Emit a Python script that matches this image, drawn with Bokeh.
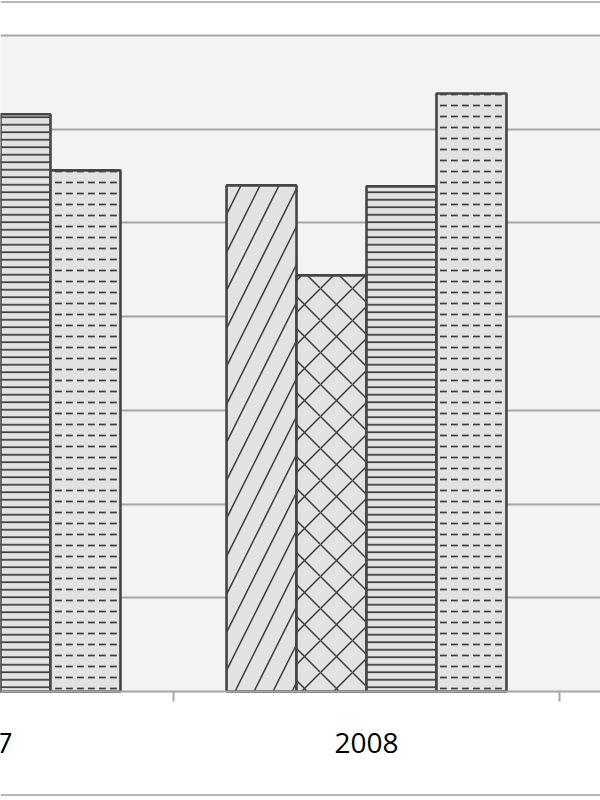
from bokeh.plotting import figure
from bokeh.models import Range1d, FixedTicker, Span, BoxAnnotation, ColumnDataSource
from bokeh.core.properties import value
from bokeh.embed import file_html
from bokeh.resources import INLINE

# ---- data ----
categories = ["2007", "2008"]
series_names = ["Series 1", "Series 2", "Series 3", "Series 4"]
series1 = [57.0, 54.0]
series2 = [50.0, 44.4]
series3 = [61.6, 53.9]
series4 = [55.6, 63.8]
y_ticks = [10, 20, 30, 40, 50, 60, 70]
group_bounds = [0.5, 1.5]

all_series = [series1, series2, series3, series4]
# (pattern, scale, weight)
hatches = [("/", 38, 1.5), ("x", 32, 1.5), ("-", 7.5, 1.7), ('"', 11, 1.7)]

bar_w = 0.1813
offsets = [-1.5 * bar_w, -0.5 * bar_w, 0.5 * bar_w, 1.5 * bar_w]

p = figure(width=600, height=800, output_backend="svg", toolbar_location=None,
           x_range=Range1d(0.0518, 1.6062), y_range=Range1d(-11.63, 73.73),
           min_border=0, outline_line_color=None,
           background_fill_color="white", border_fill_color="white")
p.styles = {"position": "absolute", "left": "0px", "top": "0px"}

# plot area background
p.add_layout(BoxAnnotation(bottom=0, top=70, fill_color="#f3f3f3", fill_alpha=1,
                           line_color=None, level="image"))

# y grid (no visible y axis)
p.yaxis.visible = False
p.yaxis.ticker = FixedTicker(ticks=y_ticks)
p.ygrid.ticker = FixedTicker(ticks=y_ticks)
p.ygrid.grid_line_color = "#a6a6a6"
p.ygrid.grid_line_width = 2
p.xgrid.visible = False

# x axis at y = 0 with ticks at group boundaries
p.xaxis.fixed_location = 0
p.xaxis.ticker = FixedTicker(ticks=group_bounds)
p.xaxis.major_label_overrides = {b: "" for b in group_bounds}
p.xaxis.axis_line_color = "#a6a6a6"
p.xaxis.axis_line_width = 2
p.xaxis.major_tick_line_color = "#a6a6a6"
p.xaxis.major_tick_line_width = 2
p.xaxis.major_tick_out = 10
p.xaxis.major_tick_in = 0
p.xaxis.minor_tick_out = 0
p.xaxis.minor_tick_in = 0

# bars
for j, (vals, (hp, hs, hw)) in enumerate(zip(all_series, hatches)):
    src = ColumnDataSource(dict(x=[i + offsets[j] for i in range(len(categories))],
                                top=vals))
    p.vbar(x="x", top="top", bottom=0, width=bar_w, source=src,
           fill_color="#e2e2e2", line_color="#454545", line_width=2.6,
           hatch_pattern=hp, hatch_scale=hs, hatch_color="#3c3c3c", hatch_weight=hw)

# category labels
lab = ColumnDataSource(dict(x=list(range(len(categories))), y=[0] * len(categories),
                            text=categories))
p.text(x="x", y="y", text="text", source=lab, text_font=value("Open Sans"),
       text_font_size="28px", text_align="center", text_baseline="middle",
       y_offset=51, text_color="black")

# outer chart border (top and bottom edges)
p.add_layout(Span(location=73.57, dimension="width", line_color="#b8b8b8", line_width=2))
p.add_layout(Span(location=-11.04, dimension="width", line_color="#b8b8b8", line_width=2))

open("out.html", "w").write(file_html(p, INLINE))
